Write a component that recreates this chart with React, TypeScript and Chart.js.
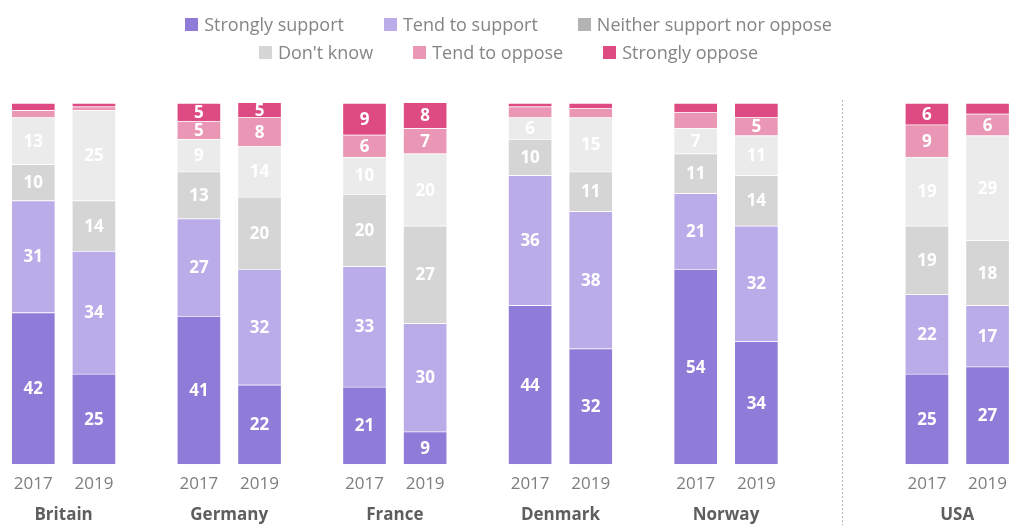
import React, { useEffect, useRef } from "react";
import { Chart, registerables } from "chart.js";

Chart.register(...registerables);

const COUNTRIES = ["Britain", "Germany", "France", "Denmark", "Norway", "USA"];
const YEARS = ["2017", "2019"];
const SERIES = [
  "Strongly support",
  "Tend to support",
  "Neither support nor oppose",
  "Don't know",
  "Tend to oppose",
  "Strongly oppose",
];
// Bar order: Britain 2017, Britain 2019, Germany 2017, Germany 2019, ... USA 2019
const STRONGLY_SUPPORT = [42, 25, 41, 22, 21.4, 9, 44, 32, 54, 34, 25, 27];
const TEND_TO_SUPPORT = [31, 34, 27, 32, 33.4, 30, 36, 38, 21, 32, 22, 17];
const NEITHER = [10, 14, 13, 20, 20, 27, 10, 11, 11, 14, 19, 18];
const DONT_KNOW = [13, 25, 9, 14, 10.2, 20, 6, 15, 7, 11, 19, 29];
const TEND_TO_OPPOSE = [2, 1, 5, 8, 6.2, 7, 3, 2.5, 4.5, 5, 9, 6];
const STRONGLY_OPPOSE = [2, 1, 5, 5, 8.8, 8, 1, 1.5, 2.5, 4, 6, 3];

const SERIES_VALUES = [
  STRONGLY_SUPPORT,
  TEND_TO_SUPPORT,
  NEITHER,
  DONT_KNOW,
  TEND_TO_OPPOSE,
  STRONGLY_OPPOSE,
];

const COLORS = ["#8f7bd8", "#b9ace8", "#d5d5d5", "#ebebeb", "#ea97b5", "#de4a82"];
const LEGEND_COLORS = ["#8f7bd8", "#b9ace8", "#b3b3b3", "#d6d6d6", "#ea97b5", "#de4a82"];

// layout (pixels along the x scale)
const W = 1017;
const H = 525;
const FIRST_GROUP = 64;
const GROUP_STEP = 166.6;
const EXTRA_GAP = 66; // extra space before the last (USA) group
const HALF_PAIR = 30.5;

const groupCenter = (g: number) =>
  FIRST_GROUP + g * GROUP_STEP + (g === COUNTRIES.length - 1 ? EXTRA_GAP : 0);
const GROUP_X = COUNTRIES.map((_, g) => groupCenter(g));
const BAR_X: number[] = [];
COUNTRIES.forEach((_, g) => {
  YEARS.forEach((_, y) => {
    BAR_X.push(groupCenter(g) + (y === 0 ? -HALF_PAIR : HALF_PAIR));
  });
});

const FONT = "'Open Sans'";

const valueLabels = {
  id: "valueLabels",
  afterDatasetsDraw(chart: any) {
    const ctx = chart.ctx;
    ctx.save();
    ctx.font = `bold 17px ${FONT}`;
    ctx.fillStyle = "#ffffff";
    ctx.textAlign = "center";
    ctx.textBaseline = "middle";
    chart.data.datasets.forEach((ds: any, di: number) => {
      const meta = chart.getDatasetMeta(di);
      meta.data.forEach((el: any, i: number) => {
        const v = ds.data[i].y;
        if (v >= 5) {
          const top = Math.max(el.y, chart.chartArea.top);
          ctx.fillText(String(Math.round(v)), el.x, (top + el.base) / 2 + 1);
        }
      });
    });
    ctx.restore();
  },
};

const separator = {
  id: "separator",
  afterDraw(chart: any) {
    const xs = chart.scales.x;
    const last = COUNTRIES.length - 1;
    const x =
      (xs.getPixelForValue(BAR_X[last * 2 - 1]) + xs.getPixelForValue(BAR_X[last * 2])) / 2;
    const ctx = chart.ctx;
    ctx.save();
    ctx.strokeStyle = "#b5b5b5";
    ctx.lineWidth = 1;
    ctx.setLineDash([2, 2]);
    ctx.beginPath();
    ctx.moveTo(Math.round(x) + 0.5, chart.chartArea.top - 3);
    ctx.lineTo(Math.round(x) + 0.5, chart.height);
    ctx.stroke();
    ctx.restore();
  },
};

export default function App() {
  const ref = useRef<HTMLCanvasElement | null>(null);

  useEffect(() => {
    document.body.style.margin = "0";
    if (!ref.current) return;
    const chart = new Chart(ref.current, {
      type: "bar",
      data: {
        datasets: SERIES.map((name, si) => ({
          label: name,
          data: SERIES_VALUES[si].map((v, i) => ({ x: BAR_X[i], y: v })),
          backgroundColor: COLORS[si],
          borderColor: "rgba(255,255,255,0.55)",
          borderWidth: 1,
          barThickness: 44,
          xAxisID: "x",
          yAxisID: "y",
        })),
      },
      options: {
        animation: false,
        responsive: false,
        layout: { padding: { top: 103, left: 0, right: 0, bottom: 0 } },
        plugins: {
          legend: { display: false },
          tooltip: { enabled: false },
        },
        scales: {
          x: {
            type: "linear",
            min: 0,
            max: W,
            offset: false,
            stacked: true,
            weight: 0,
            grid: { display: false, drawTicks: false },
            border: { display: false },
            afterBuildTicks: (scale: any) => {
              scale.ticks = BAR_X.map((v) => ({ value: v }));
            },
            ticks: {
              autoSkip: false,
              maxRotation: 0,
              padding: 10,
              color: "#7d7d7d",
              font: { family: FONT, size: 17 },
              callback: (_v: any, index: number) => YEARS[index % YEARS.length],
            },
          },
          country: {
            type: "linear",
            position: "bottom",
            min: 0,
            max: W,
            offset: false,
            weight: 1,
            grid: { display: false, drawTicks: false },
            border: { display: false },
            afterBuildTicks: (scale: any) => {
              scale.ticks = GROUP_X.map((v) => ({ value: v }));
            },
            ticks: {
              autoSkip: false,
              maxRotation: 0,
              padding: 0,
              color: "#5e5e5e",
              font: { family: FONT, size: 17, weight: "bold" },
              callback: (_v: any, index: number) => COUNTRIES[index],
            },
          },
          y: {
            stacked: true,
            display: false,
            min: 0,
            max: 100,
          },
        },
      } as any,
      plugins: [valueLabels, separator],
    });
    return () => chart.destroy();
  }, []);

  const rows = [
    [0, 1, 2],
    [3, 4, 5],
  ];

  return (
    <div style={{ position: "relative", width: W, height: H }}>
      <canvas ref={ref} width={W} height={H} style={{ width: W, height: H, display: "block" }} />
      <div
        style={{
          position: "absolute",
          top: 10,
          left: 0,
          width: W,
          fontFamily: FONT,
          fontSize: 18,
          color: "#858585",
        }}
      >
        {rows.map((row, ri) => (
          <div
            key={ri}
            style={{
              display: "flex",
              justifyContent: "center",
              alignItems: "center",
              gap: 40,
              height: 28,
            }}
          >
            {row.map((si) => (
              <div key={si} style={{ display: "flex", alignItems: "center" }}>
                <span
                  style={{
                    display: "inline-block",
                    width: 13,
                    height: 13,
                    background: LEGEND_COLORS[si],
                    marginRight: 6,
                  }}
                />
                <span>{SERIES[si]}</span>
              </div>
            ))}
          </div>
        ))}
      </div>
    </div>
  );
}
